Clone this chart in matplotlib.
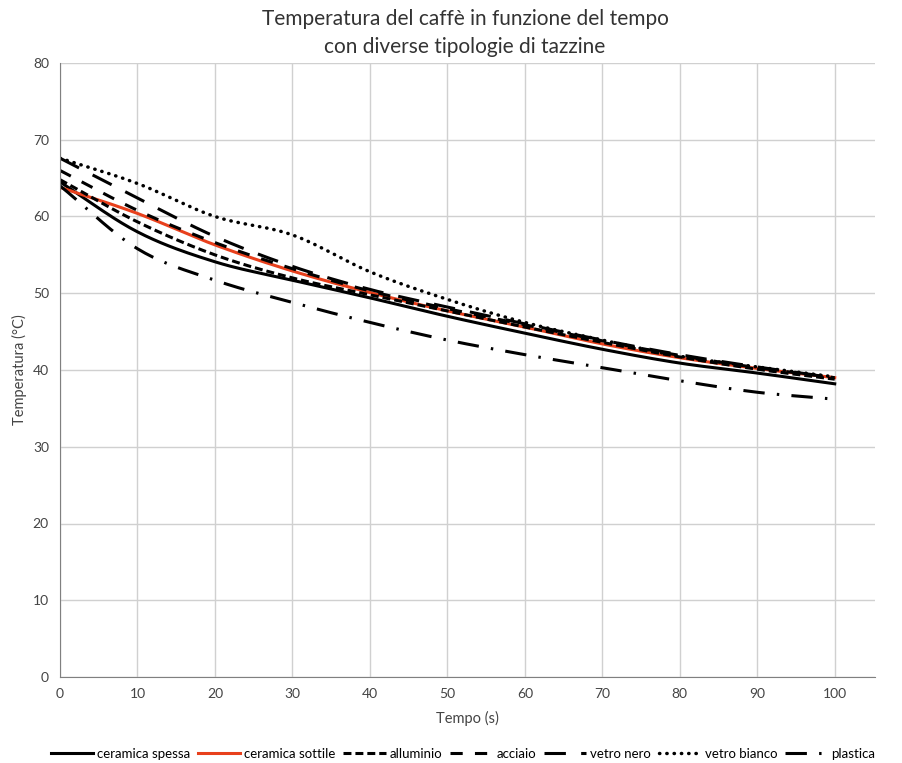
import numpy as np
import matplotlib.pyplot as plt

plt.rcParams['font.family'] = ['Lato', 'DejaVu Sans']

tempo = [0, 10, 20, 30, 40, 50, 60, 70, 80, 90, 100]

ceramica_spessa = [64.5, 58.0, 54.1, 51.7, 49.4, 47.0, 44.8, 42.7, 40.9, 39.6, 38.2]
ceramica_sottile = [63.8, 60.4, 56.3, 52.9, 50.1, 47.7, 45.6, 43.4, 41.6, 40.2, 39.0]
alluminio = [64.8, 59.3, 55.0, 52.0, 49.8, 47.7, 45.6, 43.6, 41.7, 40.1, 38.8]
acciaio = [66.0, 60.8, 56.6, 53.2, 50.3, 48.0, 45.9, 43.8, 41.9, 40.3, 39.0]
vetro_nero = [67.6, 62.4, 57.4, 53.5, 50.5, 48.2, 46.0, 43.9, 42.0, 40.4, 39.0]
vetro_bianco = [67.6, 64.3, 60.0, 57.6, 52.8, 49.2, 46.2, 43.9, 41.8, 40.4, 39.1]
plastica = [64.0, 55.8, 51.7, 48.8, 46.2, 43.9, 42.0, 40.3, 38.6, 37.1, 36.2]


def smooth(x, y, n=20):
    # Catmull-Rom curve through the points, like Excel's smoothed lines
    x = np.asarray(x, float)
    y = np.asarray(y, float)
    px = np.concatenate([[2 * x[0] - x[1]], x, [2 * x[-1] - x[-2]]])
    py = np.concatenate([[2 * y[0] - y[1]], y, [2 * y[-1] - y[-2]]])
    xs, ys = [], []
    t = np.linspace(0, 1, n, endpoint=False)
    for i in range(1, len(px) - 2):
        for p, out in ((px, xs), (py, ys)):
            p0, p1, p2, p3 = p[i - 1], p[i], p[i + 1], p[i + 2]
            out.extend(0.5 * (2 * p1 + (-p0 + p2) * t + (2 * p0 - 5 * p1 + 4 * p2 - p3) * t ** 2
                              + (-p0 + 3 * p1 - 3 * p2 + p3) * t ** 3))
    xs.append(x[-1])
    ys.append(y[-1])
    return xs, ys


fig = plt.figure(figsize=(9.03, 7.63), dpi=100)
ax = fig.add_axes([60 / 903, 1 - 677 / 763, 815 / 903, 614 / 763])

lw = 2.2
ax.plot(*smooth(tempo, ceramica_spessa), color='black', lw=lw, label='ceramica spessa')
ax.plot(*smooth(tempo, ceramica_sottile), color='#e8401c', lw=lw, label='ceramica sottile')
ax.plot(*smooth(tempo, alluminio), color='black', lw=lw, dashes=(2.6, 1.3), label='alluminio')
ax.plot(*smooth(tempo, acciaio), color='black', lw=lw, dashes=(4, 4), label='acciaio')
ax.plot(*smooth(tempo, vetro_nero), color='black', lw=lw, dashes=(7, 5), label='vetro nero')
ax.plot(*smooth(tempo, vetro_bianco), color='black', lw=lw + 0.3, dashes=(0.1, 2.0),
        dash_capstyle='round', label='vetro bianco')
ax.plot(*smooth(tempo, plastica), color='black', lw=lw, dashes=(7, 4, 0.8, 4), label='plastica')

ax.set_xlim(0, 105.2)
ax.set_ylim(0, 80)
ax.set_xticks(np.arange(0, 101, 10))
ax.set_yticks(np.arange(0, 81, 10))
ax.grid(True, color='#d0d0d0', lw=1)
ax.set_axisbelow(True)
for s in ['top', 'right']:
    ax.spines[s].set_visible(False)
for s in ['left', 'bottom']:
    ax.spines[s].set_color('#808080')
ax.tick_params(length=0, labelsize=10, colors='#444444', pad=8)

ax.set_xlabel('Tempo (s)', fontsize=10.5, color='#444444', labelpad=8)
ax.set_ylabel('Temperatura (°C)', fontsize=10.5, color='#444444', labelpad=4)

fig.text(465 / 903, 1 - 33 / 763, 'Temperatura del caffè in funzione del tempo\ncon diverse tipologie di tazzine',
         ha='center', va='center', fontsize=15, color='#333333', linespacing=1.5)

fig.legend(loc='center', bbox_to_anchor=(463 / 903, 1 - 754 / 763), ncol=7, frameon=False,
           fontsize=9.5, handlelength=3.2, handletextpad=0.3, columnspacing=0.6)

plt.savefig('out.png', dpi=100)
